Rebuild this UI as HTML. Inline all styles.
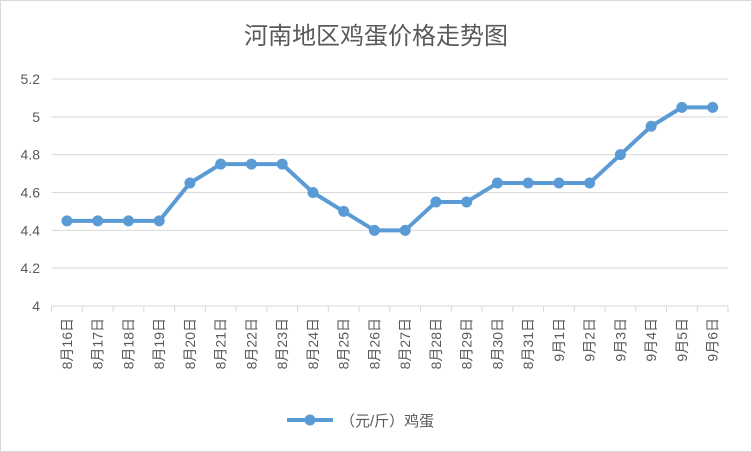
<!DOCTYPE html>
<html><head><meta charset="utf-8"><style>
body{margin:0;background:#fff}
svg{display:block;font-family:"Liberation Sans","Noto Sans CJK SC",sans-serif}
</style></head><body>
<svg width="752" height="452" viewBox="0 0 752 452">
<rect x="0.5" y="0.5" width="751" height="451" fill="#fff" stroke="#d9d9d9"/>
<text x="376" y="44" text-anchor="middle" font-size="24" fill="#595959">河南地区鸡蛋价格走势图</text>
<g id="grid"></g><g id="yt"></g><g id="xt"></g><g id="series"></g>
<g>
<line x1="287" y1="420" x2="333" y2="420" stroke="#5b9bd5" stroke-width="4"/>
<circle cx="310" cy="420" r="5.5" fill="#5b9bd5"/>
<text x="340" y="426" font-size="15" fill="#595959">（元/斤）鸡蛋</text>
</g>
</svg>
<script>
const categories=["8月16日","8月17日","8月18日","8月19日","8月20日","8月21日","8月22日","8月23日","8月24日","8月25日","8月26日","8月27日","8月28日","8月29日","8月30日","8月31日","9月1日","9月2日","9月3日","9月4日","9月5日","9月6日"];
const prices=[4.45,4.45,4.45,4.45,4.65,4.75,4.75,4.75,4.6,4.5,4.4,4.4,4.55,4.55,4.65,4.65,4.65,4.65,4.8,4.95,5.05,5.05];
const yTicks=[4,4.2,4.4,4.6,4.8,5,5.2];
const NS="http://www.w3.org/2000/svg";
const L=51.6,R=728,yMin=4,yMax=5.2,Y0=306,Y1=79;
const bw=(R-L)/categories.length;
const xs=i=>L+bw*(i+0.5);
const ys=v=>Y0-(v-yMin)/(yMax-yMin)*(Y0-Y1);
function mk(t,a,p){const e=document.createElementNS(NS,t);for(const k in a)e.setAttribute(k,a[k]);p.appendChild(e);return e;}
const grid=document.getElementById('grid'),yt=document.getElementById('yt'),xt=document.getElementById('xt'),se=document.getElementById('series');
yTicks.forEach(v=>{
 const l=mk('line',{x1:L,x2:R,y1:ys(v),y2:ys(v),stroke:'#d9d9d9','stroke-width':1},grid);
 
 
 const t=mk('text',{x:40,y:ys(v)+5,'text-anchor':'end','font-size':14,fill:'#595959'},yt);
 t.textContent=String(v);
 
 
});
for(let i=0;i<=categories.length;i++){
 const x=L+bw*i;
 const l=mk('line',{x1:x,x2:x,y1:Y0,y2:Y0+6,stroke:'#d9d9d9','stroke-width':1},xt);
 
 
}
categories.forEach((c,i)=>{
 const x=xs(i)+5;
 const t=mk('text',{x:x,y:318,transform:`rotate(-90 ${x} 318)`,'text-anchor':'end','font-size':14,fill:'#595959'},xt);
 t.textContent=c;
 
 
});
const pts=prices.map((v,i)=>xs(i)+','+ys(v)).join(' ');
const pl=mk('polyline',{points:pts,fill:'none',stroke:'#5b9bd5','stroke-width':4,'stroke-linejoin':'round'},se);


prices.forEach((v,i)=>{
 const c=mk('circle',{cx:xs(i),cy:ys(v),r:5.5,fill:'#5b9bd5'},se);
 
 
});
</script>
</body></html>
